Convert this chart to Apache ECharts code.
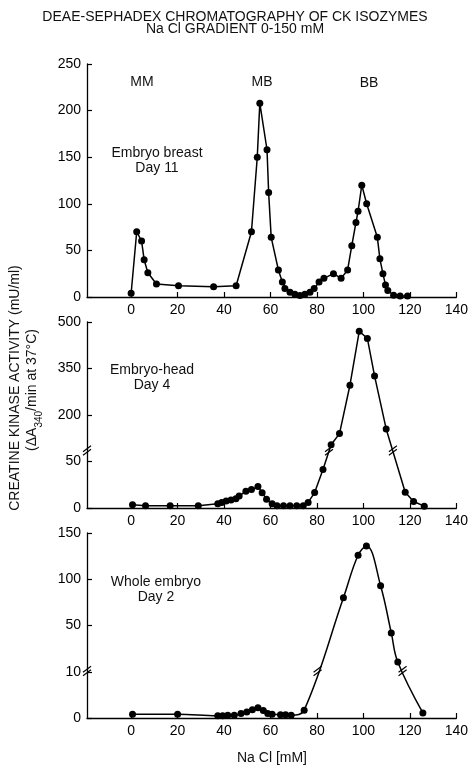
<!DOCTYPE html>
<html>
<head>
<meta charset="utf-8">
<script src="https://cdn.jsdelivr.net/npm/echarts@6/dist/echarts.min.js"></script>
<style>
    html, body { margin: 0; padding: 0; background: #fff; }
    #chart { width: 471px; height: 771px; }
</style>
</head>
<body>
<div id="chart"></div>
<script>
// NaCl (mM) tick labels shared by all panels
const xTicks = [0, 20, 40, 60, 80, 100, 120, 140];

// Embryo breast, day 11
const breastNaCl = [0, 2.4, 4.5, 5.6, 7.2, 10.9, 20.4, 35.5, 45.2, 51.8, 54.3, 55.4, 58.5, 59.2, 60.3, 63.4, 65.1, 66.2,
    68.4, 70.5, 72.7, 74.8, 77, 78.8, 80.9, 83, 87.1, 90.4, 93.2, 95, 96.8, 97.7, 99.3, 101.4, 106, 107.1, 108.4,
    109.5, 110.5, 113, 115.8, 119];
const breastActivity = [4, 70, 60, 40, 26, 14, 12, 11, 12, 70, 150, 208, 158, 112, 64, 29, 16, 9,
    5, 3, 1.5, 3, 5, 9, 16, 20, 25, 20, 29, 55, 80, 92, 120, 100, 64, 41, 25,
    13, 7, 2, 1, 1];
const breastTicks = [0, 50, 100, 150, 200, 250];

// Embryo head, day 4
const headNaCl = [0.6, 6.2, 16.8, 28.9, 37.3, 39, 40.9, 43, 45.1, 46.5, 49.4, 51.8, 54.6, 56.4, 58.3, 60.7, 62.8,
    65.6, 68.4, 71.3, 74.1, 76.2, 79, 82.6, 86.1, 89.7, 94.2, 98.2, 101.7, 104.8, 109.8, 118, 121.6, 126.2];
const headActivity = [3.5, 2.5, 2.5, 2.5, 4.5, 6, 7.5, 8.5, 10, 13, 18, 20, 23, 16.5, 9.5, 4.5, 2.5,
    2.5, 2.5, 2.5, 2.5, 6, 16.6, 41.5, 104, 140, 296, 470, 447, 326, 155, 17, 7, 2];
const headTicks = [0, 50, 200, 350, 500];

// Whole embryo, day 2
const wholeNaCl = [0.6, 20, 37.3, 39.4, 41.6, 44.4, 47.3, 49.8, 52.2, 54.6, 56.9, 58.8, 60.7, 64.3, 66.5, 68.9,
    74.5, 91.4, 97.7, 101.3, 107.4, 112, 114.8, 125.6];
const wholeActivity = [0.8, 0.8, 0.5, 0.5, 0.6, 0.6, 1, 1.3, 1.8, 2.2, 1.6, 1, 0.8, 0.7, 0.7, 0.6,
    1.7, 80, 126, 136, 93, 42, 10.5, 1.1];
const wholeTicks = [0, 10, 50, 100, 150];

const FONT = '"Liberation Sans", Arial, Helvetica, sans-serif';

// broken axes: two linear pieces, drawn on evenly spaced ticks
function headScale(v) { return v <= 60 ? v : 100 + (v - 200) / 3; }
function wholeScale(v) { return v <= 10 ? v : 20 + (v - 50) / 5; }

const chart = echarts.init(document.getElementById('chart'));

function makeX(i) {
    return {
        type: 'value', gridIndex: i, min: -19, max: 140,
        axisLine: { onZero: false, lineStyle: { color: '#000', width: 1.3 } },
        axisTick: { inside: true, length: 5, lineStyle: { color: '#000', width: 1.2 }, customValues: xTicks },
        axisLabel: { customValues: xTicks, margin: 6, color: '#000', fontSize: 14, fontFamily: FONT },
        splitLine: { show: false }
    };
}

function makeY(i, max, interval, ticks) {
    return {
        type: 'value', gridIndex: i, min: 0, max: max, interval: interval,
        axisLine: { show: true, onZero: false, lineStyle: { color: '#000', width: 1.3 } },
        axisTick: { show: true, inside: true, length: 5, lineStyle: { color: '#000', width: 1.2 } },
        axisLabel: {
            margin: 6, color: '#000', fontSize: 14, fontFamily: FONT,
            formatter: v => String(ticks[Math.round(v / interval)])
        },
        splitLine: { show: false }
    };
}

function makeSeries(i, xs, ys, scale, smooth) {
    return {
        type: 'line', xAxisIndex: i, yAxisIndex: i,
        data: xs.map((x, k) => [x, scale(ys[k])]),
        symbol: 'circle', symbolSize: 7, smooth: smooth,
        itemStyle: { color: '#000' },
        lineStyle: { color: '#000', width: 1.5 }
    };
}

function txt(id, x, y, text) {
    return {
        type: 'text', id: id, x: x, y: y, z: 50,
        style: { text: text, fill: '#111', font: '14px ' + FONT, align: 'center', verticalAlign: 'middle' }
    };
}

const texts = [
    txt('t1', 235, 17, 'DEAE-SEPHADEX CHROMATOGRAPHY OF CK ISOZYMES'),
    txt('t2', 235, 29, 'Na Cl GRADIENT 0-150 mM'),
    txt('mm', 142, 82, 'MM'),
    txt('mb', 262, 82, 'MB'),
    txt('bb', 369, 83, 'BB'),
    txt('p1a', 157, 153, 'Embryo breast'),
    txt('p1b', 157, 168, 'Day 11'),
    txt('p2a', 152, 370, 'Embryo-head'),
    txt('p2b', 152, 385, 'Day 4'),
    txt('p3a', 156, 582, 'Whole embryo'),
    txt('p3b', 156, 597, 'Day 2'),
    txt('xl', 272, 758, 'Na Cl [mM]'),
    {
        type: 'text', id: 'yl1', x: 15, y: 388, rotation: Math.PI / 2, z: 50,
        style: { text: 'CREATINE KINASE ACTIVITY (mU/ml)', fill: '#111', font: '14px ' + FONT,
            align: 'center', verticalAlign: 'middle' }
    },
    {
        type: 'text', id: 'yl2', x: 34, y: 390, rotation: Math.PI / 2, z: 50,
        style: {
            text: '{n|(ΔA}{s|340}{n|/min at 37°C)}', fill: '#111', align: 'center', verticalAlign: 'middle',
            rich: {
                n: { fontSize: 14, fontFamily: FONT, lineHeight: 18, verticalAlign: 'top', fill: '#111' },
                s: { fontSize: 10, fontFamily: FONT, lineHeight: 10, verticalAlign: 'top', padding: [9, 0, 0, 0], fill: '#111' }
            }
        }
    }
];

chart.setOption({
    animation: false,
    grid: [
        { left: 87, width: 375, top: 64, height: 233 },
        { left: 87, width: 375, top: 322, height: 186 },
        { left: 87, width: 375, top: 533, height: 185 }
    ],
    xAxis: [makeX(0), makeX(1), makeX(2)],
    yAxis: [makeY(0, 250, 50, breastTicks), makeY(1, 200, 50, headTicks), makeY(2, 40, 10, wholeTicks)],
    series: [
        makeSeries(0, breastNaCl, breastActivity, v => v, false),
        makeSeries(1, headNaCl, headActivity, headScale, false),
        makeSeries(2, wholeNaCl, wholeActivity, wholeScale, 0.4)
    ],
    graphic: texts
});

// "//" break marks on the broken axes and where the lines cross the break
function breakMark(id, p) {
    return {
        type: 'group', id: id, x: p[0], y: p[1], z: 100,
        children: [
            { type: 'polygon', shape: { points: [[-4, 4], [4, -2], [4, -5.5], [-4, 0.5]] }, style: { fill: '#fff' } },
            { type: 'line', shape: { x1: -4, y1: 4, x2: 4, y2: -2 }, style: { stroke: '#000', lineWidth: 1.2 } },
            { type: 'line', shape: { x1: -4, y1: 0.5, x2: 4, y2: -5.5 }, style: { stroke: '#000', lineWidth: 1.2 } }
        ]
    };
}

function crossings(xs, ys, scale, level) {
    const out = [];
    for (let k = 1; k < xs.length; k++) {
        const d1 = scale(ys[k - 1]), d2 = scale(ys[k]);
        if ((d1 - level) * (d2 - level) < 0) {
            out.push(xs[k - 1] + (level - d1) / (d2 - d1) * (xs[k] - xs[k - 1]));
        }
    }
    return out;
}

const marks = [];
[[1, headNaCl, headActivity, headScale, 61], [2, wholeNaCl, wholeActivity, wholeScale, 10]].forEach(([g, xs, ys, sc, lvl]) => {
    marks.push(breakMark('ax' + g, chart.convertToPixel({ gridIndex: g }, [-19, lvl])));
    crossings(xs, ys, sc, lvl).forEach((x, k) => {
        marks.push(breakMark('ln' + g + '_' + k, chart.convertToPixel({ gridIndex: g }, [x, lvl])));
    });
});

chart.setOption({ graphic: texts.concat(marks) }, { replaceMerge: ['graphic'] });
</script>
</body>
</html>
